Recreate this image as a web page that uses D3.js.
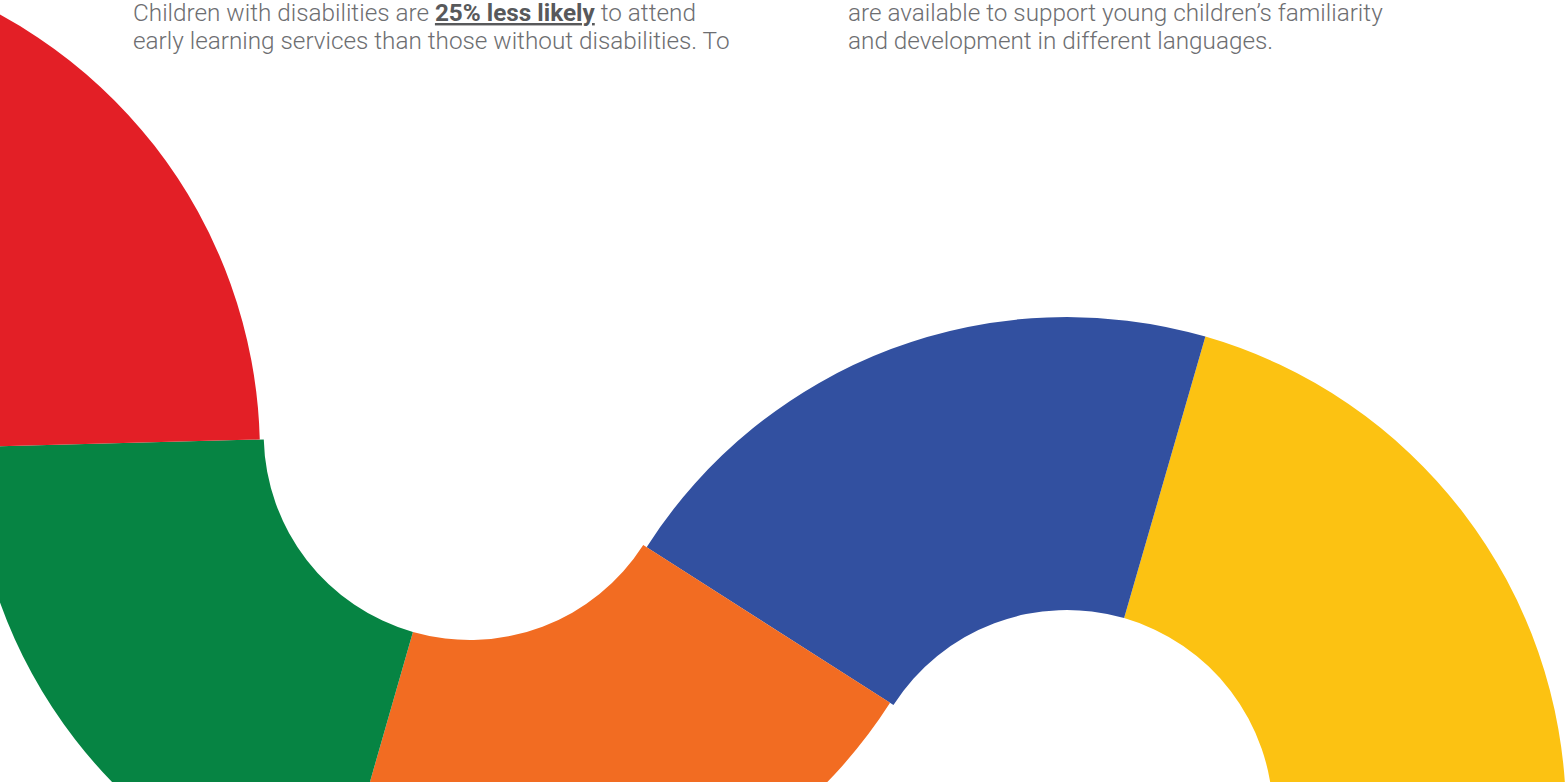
<!DOCTYPE html>
<html>
<head>
<meta charset="utf-8">
<script src="https://cdn.jsdelivr.net/npm/d3@7"></script>
<style>
  html, body { margin: 0; padding: 0; background: #fff; }
  svg { display: block; }
  text { font-family: Roboto, "Liberation Sans", sans-serif; font-weight: 300; }
</style>
</head>
<body>
<svg id="chart"></svg>
<script>
/* --- Data: --- */
// segments of the ribbon, in the order the ribbon runs (right to left)
var categories = ["Yellow", "Blue", "Orange", "Green", "Red"];
var colours = ["#fcc212", "#3250a0", "#f26c22", "#068443", "#e31f26"];
var spans = [73, 73.5, 73.4, 72.5, 73];   // sweep of each segment, degrees
var ringOf = [0, 0, 1, 1, 2];             // which half ring each segment sits on

// the two text blocks (only their last lines show at the top)
var leftLines = [
    [["Children with disabilities are ", false], ["25% less likely", true], [" to attend", false]],
    [["early learning services than those without disabilities. To", false]]
];
var rightLines = [
    [["are available to support young children\u2019s familiarity", false]],
    [["and development in different languages.", false]]
];

/* --- Globals: --- */
var width = 1567;
var height = 782;
var innerR = 206;
var outerR = 499;
var gap = 4;
var startCentre = [1067, 816];
var startAngle = 89.1;

var svg = d3.select("#chart").attr("width", width).attr("height", height);
var toRad = d3.scaleLinear().domain([0, 360]).range([0, 2 * Math.PI]);
var arc = d3.arc().innerRadius(innerR).outerRadius(outerR);

/* --- Walk along the ribbon, flipping to the next ring at each contact: --- */
var cx = startCentre[0], cy = startCentre[1];
var a = startAngle, dir = -1;
var pieces = [];
for (var i = 0; i < categories.length; i++) {
    if (i > 0 && ringOf[i] != ringOf[i - 1]) {
        var d = innerR + outerR + gap;
        cx = cx + d * Math.sin(toRad(a));
        cy = cy - d * Math.cos(toRad(a));
        a = a + 180;
        dir = -dir;
    }
    var a1 = a + dir * spans[i];
    pieces.push({name: categories[i], colour: colours[i], cx: cx, cy: cy, a0: a, a1: a1});
    a = a1;
}

svg.append("g")
    .selectAll("path")
    .data(pieces)
    .join("path")
    .attr("transform", d => "translate(" + d.cx + "," + d.cy + ")")
    .attr("d", d => arc({startAngle: toRad(d.a0), endAngle: toRad(d.a1)}))
    .attr("fill", d => d.colour);

/* --- Text blocks: --- */
function writeBlock(lines, x, y0) {
    var t = svg.append("text")
        .attr("x", x)
        .attr("y", y0)
        .attr("font-size", 24.3)
        .attr("fill", "#6d6e71");
    lines.forEach(function(line, li) {
        line.forEach(function(part, pi) {
            var s = t.append("tspan").text(part[0]);
            if (pi == 0) s.attr("x", x).attr("dy", li == 0 ? 0 : 28.2);
            if (part[1]) {
                s.attr("font-weight", 700)
                 .attr("fill", "#58595b")
                 .attr("text-decoration", "underline");
            }
        });
    });
}
writeBlock(leftLines, 133, 21);
writeBlock(rightLines, 848, 21);
</script>
</body>
</html>
